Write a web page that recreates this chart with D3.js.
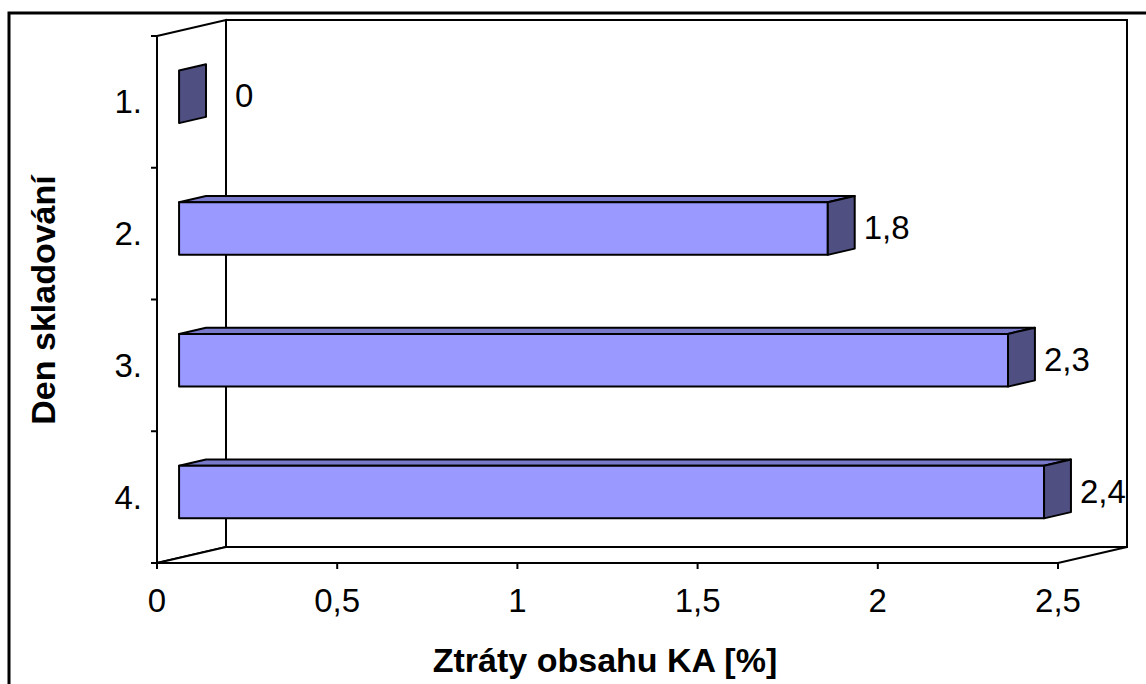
<!DOCTYPE html>
<html>
<head>
<meta charset="utf-8">
<script src="https://cdn.jsdelivr.net/npm/d3@7"></script>
<style>
	body { margin: 0; background: #fff; }
	svg { display: block; font-family: Arial, "Liberation Sans", sans-serif; }
</style>
</head>
<body>
<svg id="chart" width="1146" height="684"></svg>
<script>
// chart data
const days = ["1.", "2.", "3.", "4."];
const losses = [0, 1.8, 2.3, 2.4];
const lossLabels = ["0", "1,8", "2,3", "2,4"];
const xTicks = [0, 0.5, 1, 1.5, 2, 2.5];
const xTickLabels = ["0", "0,5", "1", "1,5", "2", "2,5"];
const xTitle = "Ztráty obsahu KA [%]";
const yTitle = "Den skladování";

const svg = d3.select("#chart");

// front plane of the 3d box
const plotLeft = 157, plotRight = 1058, plotTop = 36, plotBottom = 563;
const depth = { dx: 69, dy: -16 }; // offset from front to back wall
const barFront = 0.32, barBack = 0.71; // bar position inside depth
const labelSize = 33;

const x = d3.scaleLinear().domain([0, 2.5]).range([plotLeft, plotRight]);
const y = d3.scaleBand().domain(days).range([plotTop, plotBottom]).paddingInner(0.6).paddingOuter(0.3);

// project a point at given depth fraction
const pt = (px, py, f) => [px + f * depth.dx, py + f * depth.dy];
const poly = (pts) => pts.map((p) => p.join(",")).join(" ");

// outer border
svg.append("rect")
	.attr("x", 9).attr("y", 13)
	.attr("width", 1150).attr("height", 690)
	.attr("fill", "none").attr("stroke", "#000").attr("stroke-width", 3);

const walls = svg.append("g").attr("fill", "#fff").attr("stroke", "#000").attr("stroke-width", 2);

// back wall
walls.append("polygon").attr("points", poly([
	pt(plotLeft, plotTop, 1), pt(plotRight, plotTop, 1), pt(plotRight, plotBottom, 1), pt(plotLeft, plotBottom, 1)
]));
// side wall
walls.append("polygon").attr("points", poly([
	pt(plotLeft, plotTop, 0), pt(plotLeft, plotTop, 1), pt(plotLeft, plotBottom, 1), pt(plotLeft, plotBottom, 0)
]));
// floor
walls.append("polygon").attr("points", poly([
	pt(plotLeft, plotBottom, 0), pt(plotLeft, plotBottom, 1), pt(plotRight, plotBottom, 1), pt(plotRight, plotBottom, 0)
]));

// y axis tick marks at band boundaries
const yTickPos = [plotTop].concat(days.slice(1).map((d) => y(d) - (y.step() - y.bandwidth()) / 2), [plotBottom]);
svg.append("g").selectAll("line")
	.data(yTickPos)
	.enter()
	.append("line")
	.attr("x1", plotLeft - 6).attr("x2", plotLeft)
	.attr("y1", (d) => d).attr("y2", (d) => d)
	.attr("stroke", "#000").attr("stroke-width", 2);

// y category labels
svg.append("g").selectAll("text")
	.data(days)
	.enter()
	.append("text")
	.attr("x", 142)
	.attr("y", (d) => y(d) + y.bandwidth() / 2)
	.attr("dy", "0.35em")
	.attr("text-anchor", "end")
	.attr("font-size", labelSize)
	.text((d) => d);

// x axis ticks and labels
svg.append("g").selectAll("line")
	.data(xTicks)
	.enter()
	.append("line")
	.attr("x1", (d) => x(d)).attr("x2", (d) => x(d))
	.attr("y1", plotBottom).attr("y2", plotBottom + 6)
	.attr("stroke", "#000").attr("stroke-width", 2);
svg.append("g").selectAll("text")
	.data(xTicks)
	.enter()
	.append("text")
	.attr("x", (d) => x(d))
	.attr("y", 612)
	.attr("text-anchor", "middle")
	.attr("font-size", labelSize)
	.text((d, i) => xTickLabels[i]);

// 3d bars
const bars = svg.append("g").selectAll("g")
	.data(days.map((d, i) => ({ day: d, v: losses[i], label: lossLabels[i] })))
	.enter()
	.append("g")
	.attr("stroke", "#000").attr("stroke-width", 2).attr("stroke-linejoin", "round");

bars.each(function (d) {
	const g = d3.select(this);
	const y0 = y(d.day), y1 = y(d.day) + y.bandwidth();
	const x0 = x(0), x1 = x(d.v);
	if (d.v > 0) {
		// top face
		g.append("polygon").attr("fill", "#7a7acc").attr("points", poly([
			pt(x0, y0, barFront), pt(x0, y0, barBack), pt(x1, y0, barBack), pt(x1, y0, barFront)
		]));
		// front face
		g.append("polygon").attr("fill", "#9999ff").attr("points", poly([
			pt(x0, y0, barFront), pt(x1, y0, barFront), pt(x1, y1, barFront), pt(x0, y1, barFront)
		]));
	}
	// end face
	g.append("polygon").attr("fill", "#4f4f82").attr("points", poly([
		pt(x1, y0, barFront), pt(x1, y0, barBack), pt(x1, y1, barBack), pt(x1, y1, barFront)
	]));
});

// value labels
svg.append("g").selectAll("text")
	.data(losses)
	.enter()
	.append("text")
	.attr("x", (d) => Math.max(x(d) + 22 + 36, plotLeft + depth.dx + 9))
	.attr("y", (d, i) => y(days[i]) + y.bandwidth() / 2 - 6)
	.attr("dy", "0.35em")
	.attr("font-size", labelSize)
	.text((d, i) => lossLabels[i]);

// axis titles
svg.append("text")
	.attr("x", 605).attr("y", 672)
	.attr("text-anchor", "middle")
	.attr("font-size", 34).attr("font-weight", "bold")
	.text(xTitle);
svg.append("text")
	.attr("transform", "translate(55,300) rotate(-90)")
	.attr("text-anchor", "middle")
	.attr("font-size", 34).attr("font-weight", "bold")
	.text(yTitle);
</script>
</body>
</html>
